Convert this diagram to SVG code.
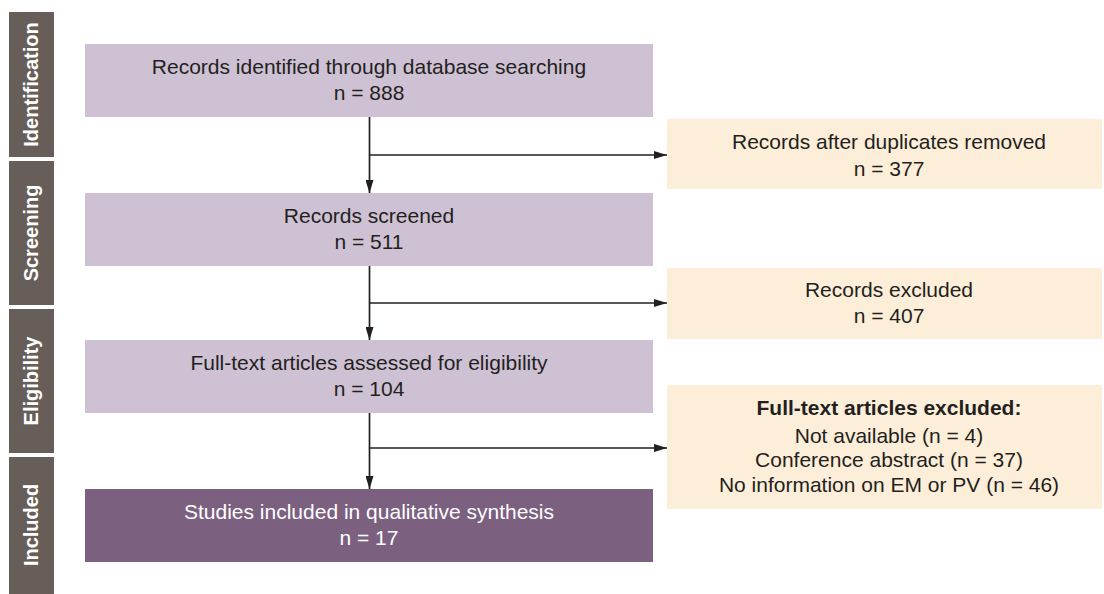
<svg xmlns="http://www.w3.org/2000/svg" width="1104" height="594" viewBox="0 0 1104 594">
<style>
.phase{fill:#675e59}
.plab{fill:#ffffff;font-family:"Liberation Sans",Arial,sans-serif;font-weight:bold;font-size:20px;text-anchor:middle}
.main{fill:#cec1d3}
.final{fill:#7b607f}
.side{fill:#fdeed9}
.t{fill:#231f20;font-family:"Liberation Sans",Arial,sans-serif;font-size:21px;text-anchor:middle}
.tw{fill:#ffffff;font-family:"Liberation Sans",Arial,sans-serif;font-size:21px;text-anchor:middle}
.b{font-weight:bold}
.ln{stroke:#231f20;stroke-width:1.7;fill:none}
</style>
<defs>
<marker id="ah" markerWidth="13" markerHeight="8" refX="13" refY="4" orient="auto" markerUnits="userSpaceOnUse">
<path d="M0,0 L13,4 L0,8 Z" fill="#231f20"/>
</marker>
</defs>
<rect width="1104" height="594" fill="#ffffff"/>
<g id="phase-identification">
<rect class="phase" x="9" y="12" width="45" height="145"/>
<text class="plab" transform="translate(38,84.5) rotate(-90)">Identification</text>
</g>
<g id="phase-screening">
<rect class="phase" x="9" y="161" width="45" height="144"/>
<text class="plab" transform="translate(38,233) rotate(-90)">Screening</text>
</g>
<g id="phase-eligibility">
<rect class="phase" x="9" y="309" width="45" height="144"/>
<text class="plab" transform="translate(38,381) rotate(-90)">Eligibility</text>
</g>
<g id="phase-included">
<rect class="phase" x="9" y="457" width="45" height="137"/>
<text class="plab" transform="translate(38,525) rotate(-90)">Included</text>
</g>
<g id="connectors">
<line class="ln" x1="369.5" y1="117" x2="369.5" y2="193" marker-end="url(#ah)"/>
<line class="ln" x1="369.5" y1="155" x2="667" y2="155" marker-end="url(#ah)"/>
<line class="ln" x1="369.5" y1="266" x2="369.5" y2="340" marker-end="url(#ah)"/>
<line class="ln" x1="369.5" y1="303" x2="667" y2="303" marker-end="url(#ah)"/>
<line class="ln" x1="369.5" y1="413" x2="369.5" y2="489" marker-end="url(#ah)"/>
<line class="ln" x1="369.5" y1="448" x2="667" y2="448" marker-end="url(#ah)"/>
</g>
<g id="records-identified">
<rect class="main" x="85" y="44" width="568" height="73"/>
<text class="t" x="369" y="74">Records identified through database searching</text>
<text class="t" x="369" y="100">n = 888</text>
</g>
<g id="records-screened">
<rect class="main" x="85" y="193" width="568" height="73"/>
<text class="t" x="369" y="223">Records screened</text>
<text class="t" x="369" y="249">n = 511</text>
</g>
<g id="full-text-assessed">
<rect class="main" x="85" y="340" width="568" height="73"/>
<text class="t" x="369" y="370">Full-text articles assessed for eligibility</text>
<text class="t" x="369" y="396">n = 104</text>
</g>
<g id="studies-included">
<rect class="final" x="85" y="489" width="568" height="73"/>
<text class="tw" x="369" y="519">Studies included in qualitative synthesis</text>
<text class="tw" x="369" y="545">n = 17</text>
</g>
<g id="duplicates-removed">
<rect class="side" x="667" y="119" width="435" height="70"/>
<text class="t" x="889" y="149">Records after duplicates removed</text>
<text class="t" x="889" y="176">n = 377</text>
</g>
<g id="records-excluded">
<rect class="side" x="667" y="268" width="435" height="71"/>
<text class="t" x="889" y="297">Records excluded</text>
<text class="t" x="889" y="323">n = 407</text>
</g>
<g id="full-text-excluded">
<rect class="side" x="667" y="385" width="435" height="124"/>
<text class="t b" x="889" y="415">Full-text articles excluded:</text>
<text class="t" x="889" y="443">Not available (n = 4)</text>
<text class="t" x="889" y="467">Conference abstract (n = 37)</text>
<text class="t" x="889" y="492">No information on EM or PV (n = 46)</text>
</g>
</svg>
